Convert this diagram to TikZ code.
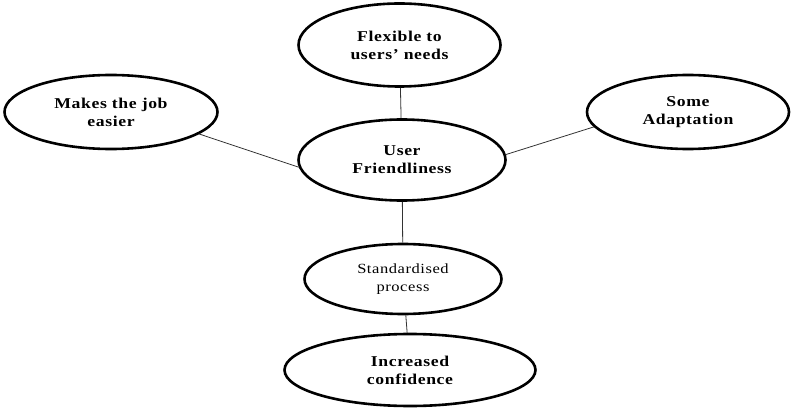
\documentclass[tikz,border=0pt]{standalone}
\usepackage{fontspec}
\setmainfont[FakeStretch=1.18, LetterSpace=4]{Liberation Serif}
\usetikzlibrary{shapes.geometric}
\begin{document}
\begin{tikzpicture}[x=1pt,y=-1pt,
  oval/.style={ellipse, draw, line width=2.6pt, inner sep=0pt, align=center,
    font=\fontsize{15}{18}\selectfont\bfseries},
  link/.style={line width=0.8pt, draw=black!80}]
\useasboundingbox (0,0) rectangle (793,409);
\node[oval, minimum width=202pt, minimum height=83pt] (T) at (399.5,45) {Flexible to\\users' needs};
\node[oval, minimum width=213pt, minimum height=74pt] (L) at (111,112) {Makes the job\\easier};
\node[oval, minimum width=202pt, minimum height=74pt] (R) at (688,112) {Some\\Adaptation};
\node[oval, minimum width=207pt, minimum height=81pt] (C) at (402,160) {User\\Friendliness};
\node[oval, minimum width=197pt, minimum height=70pt, font=\fontsize{14}{18}\selectfont] (S) at (403,279) {Standardised\\process};
\node[oval, minimum width=251pt, minimum height=72pt] (I) at (410,370) {Increased\\confidence};
\draw[link] (T) -- (C);
\draw[link] (C) -- (S);
\draw[link] (S) -- (I);
\draw[link] (L.-14) -- (C.184.5);
\draw[link] (C.3) -- (R.189.5);
\end{tikzpicture}
\end{document}
